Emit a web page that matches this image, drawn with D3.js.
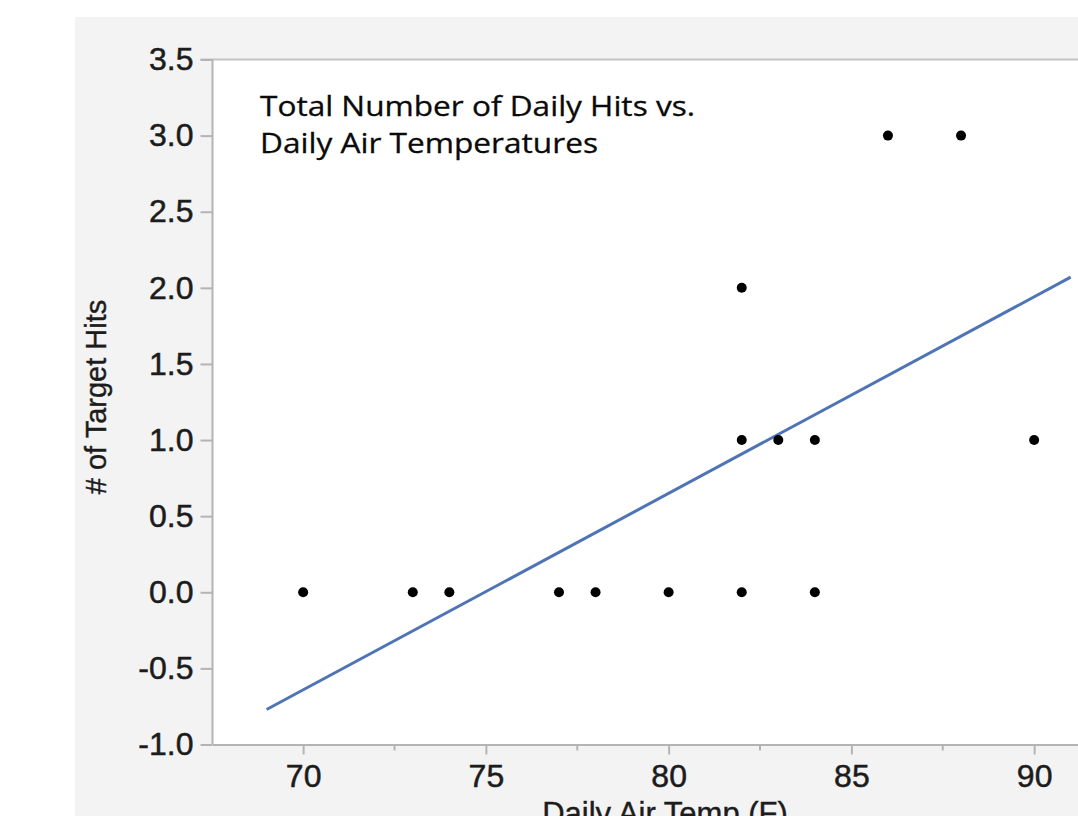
<!DOCTYPE html>
<html>
<head>
<meta charset="utf-8">
<script src="https://cdn.jsdelivr.net/npm/d3@7"></script>
<style>
  body { margin: 0; background: #fff; }
  svg { display: block; }
</style>
</head>
<body>
<svg id="scatterViz"></svg>
<script>
// data
var temps = [70, 73, 74, 77, 78, 80, 82, 84, 82, 83, 84, 90, 82, 86, 88];
var hits  = [0, 0, 0, 0, 0, 0, 0, 0, 1, 1, 1, 1, 2, 3, 3];
var fitTemps = [69, 91];
var fitHits  = [-0.77, 2.07];
var yTicks = [-1.0, -0.5, 0.0, 0.5, 1.0, 1.5, 2.0, 2.5, 3.0, 3.5];
var xTicks = [70, 75, 80, 85, 90];
var xMinorTicks = [72.5, 77.5, 82.5, 87.5];
var titleLines = ["Total Number of Daily Hits vs.", "Daily Air Temperatures"];
var titleWidths = [435, 338];

var width = 1078;
var height = 816;
var plotLeft = 212.5, plotTop = 59.5, plotBottom = 744.5;

var svg = d3.select("#scatterViz")
    .attr("width", width)
    .attr("height", height);

// grey backdrop + white plot area
svg.append("rect")
    .attr("x", 75).attr("y", 17)
    .attr("width", width - 75).attr("height", height - 17)
    .attr("fill", "#f3f3f3");

var x_scale = d3.scaleLinear()
    .domain([67.52, 91.2])
    .range([plotLeft, plotLeft + (91.2 - 67.52) * 36.55]);

var y_scale = d3.scaleLinear()
    .domain([-1, 3.5])
    .range([plotBottom, plotTop]);

svg.append("rect")
    .attr("x", plotLeft).attr("y", plotTop)
    .attr("width", width - plotLeft).attr("height", plotBottom - plotTop)
    .attr("fill", "#ffffff");

// top border of plot
svg.append("line")
    .attr("x1", plotLeft - 12).attr("x2", width)
    .attr("y1", plotTop).attr("y2", plotTop)
    .attr("stroke", "#c4c4c4").attr("stroke-width", 2);

// Y Axis (plain hyphen for negatives, like the original)
var fmt = d3.format(".1f");
var y_axis = d3.axisLeft(y_scale)
    .tickValues(yTicks)
    .tickFormat(function (d) { return fmt(d).replace("\u2212", "-"); })
    .tickSize(12)
    .tickPadding(7);

var yg = svg.append("g")
    .attr("transform", "translate(" + plotLeft + ",0)")
    .call(y_axis);

// X Axis
var x_axis = d3.axisBottom(x_scale)
    .tickValues(xTicks)
    .tickSize(10)
    .tickPadding(10)
    .tickSizeOuter(0);

var xg = svg.append("g")
    .attr("transform", "translate(0," + plotBottom + ")")
    .call(x_axis);

xg.selectAll(".minor")
    .data(xMinorTicks)
    .enter().append("line")
    .attr("class", "minor")
    .attr("x1", function (d) { return x_scale(d); })
    .attr("x2", function (d) { return x_scale(d); })
    .attr("y1", 0).attr("y2", 6)
    .attr("stroke", "#b4b4b4").attr("stroke-width", 2);

[yg, xg].forEach(function (g) {
    g.select(".domain").attr("stroke", "#b4b4b4").attr("stroke-width", 2);
    g.selectAll(".tick line").attr("stroke", "#b4b4b4").attr("stroke-width", 2);
    g.selectAll(".tick text")
        .attr("fill", "#1c1c1c")
        .attr("stroke", "#1c1c1c")
        .attr("stroke-width", 0.5)
        .style("font-family", "'Liberation Sans', Arial, sans-serif")
        .style("font-size", "32px");
});
yg.select(".domain").attr("d", "M0," + plotTop + "V" + plotBottom);

// fit line
var fitData = fitTemps.map(function (t, i) { return { t: t, h: fitHits[i] }; });
var fitLine = d3.line()
    .x(function (d) { return x_scale(d.t); })
    .y(function (d) { return y_scale(d.h); });

svg.append("path")
    .attr("d", fitLine(fitData))
    .attr("fill", "none")
    .attr("stroke", "#4e74b6")
    .attr("stroke-width", 3);

// points
var pts = temps.map(function (t, i) { return { t: t, h: hits[i] }; });
svg.selectAll(".dot")
    .data(pts)
    .enter().append("circle")
    .attr("class", "dot")
    .attr("cx", function (d) { return x_scale(d.t); })
    .attr("cy", function (d) { return y_scale(d.h); })
    .attr("r", 5)
    .attr("fill", "#000");

// title
svg.selectAll(".title")
    .data(titleLines)
    .enter().append("text")
    .attr("class", "title")
    .attr("x", 260)
    .attr("y", function (d, i) { return 116 + i * 37; })
    .attr("textLength", function (d, i) { return titleWidths[i]; })
    .attr("lengthAdjust", "spacingAndGlyphs")
    .attr("fill", "#0a0a0a")
    .attr("stroke", "#0a0a0a")
    .attr("stroke-width", 0.3)
    .style("font-family", "'Open Sans', Lato, sans-serif")
    .style("font-size", "27px")
    .text(function (d) { return d; });

// axis titles
svg.append("text")
    .text("# of Target Hits")
    .attr("transform", "translate(106,397) rotate(-90)")
    .attr("text-anchor", "middle")
    .attr("fill", "#1c1c1c")
    .attr("stroke", "#1c1c1c")
    .attr("stroke-width", 0.4)
    .style("font-family", "'Liberation Sans', Arial, sans-serif")
    .style("font-size", "29px");

svg.append("text")
    .text("Daily Air Temp (F)")
    .attr("x", 665)
    .attr("y", 824)
    .attr("text-anchor", "middle")
    .attr("fill", "#1c1c1c")
    .attr("stroke", "#1c1c1c")
    .attr("stroke-width", 0.4)
    .style("font-family", "'Liberation Sans', Arial, sans-serif")
    .style("font-size", "31px");
</script>
</body>
</html>
